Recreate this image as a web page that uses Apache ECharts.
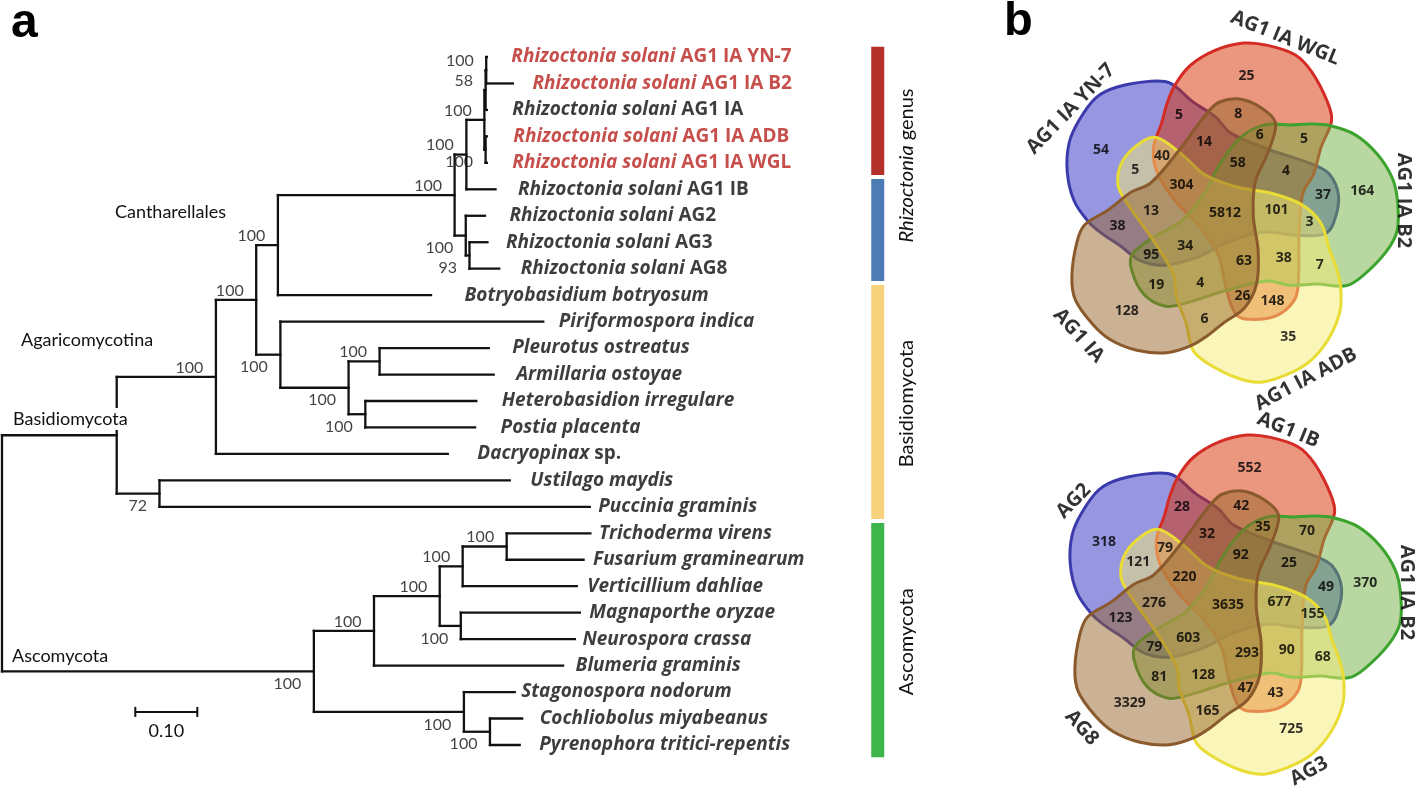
<!DOCTYPE html>
<html>
<head>
<meta charset="utf-8">
<script src="https://cdn.jsdelivr.net/npm/echarts@6/dist/echarts.min.js"></script>
<style>
  html, body { margin: 0; padding: 0; background: #fff; }
  #chart { width: 1418px; height: 788px; }
</style>
</head>
<body>
<div id="chart"></div>
<script>
// ---- tree data (branch lengths, 0.10 = scale bar) ----
const treeNewick = '((((((((((YN7:0.001,B2:0.043)100:0.001,IA:0.002)58:0.002,(ADB:0.002,WGL:0.002)100:0.002)100:0.029,IB:0.047)100:0.019,(AG2:0.031,(AG3:0.029,AG8:0.048)93:0.006)100:0.018)100:0.285,Bb:0.247)100:0.035,(Pi:0.424,((Po:0.176,Ao:0.184)100:0.050,(Hi:0.179,Pp:0.177)100:0.027)100:0.110)100:0.039)100:0.065,Dc:0.374)100:0.160,(Um:0.565,Pg:0.694)72:0.069):0.185,(((((Tv:0.135,Fg:0.124)100:0.071,Vd:0.184)100:0.037,(Mo:0.192,Nc:0.184)100:0.034)100:0.106,Bg:0.305)100:0.097,(Sn:0.082,(Cm:0.052,Pt:0.048)100:0.042)100:0.242)100:0.503);'

const leafKeys = ['YN7','B2','IA','ADB','WGL','IB','AG2','AG3','AG8','Bb','Pi','Po','Ao','Hi','Pp','Dc','Um','Pg','Tv','Fg','Vd','Mo','Nc','Bg','Sn','Cm','Pt']
const leafItalic = ['Rhizoctonia solani','Rhizoctonia solani','Rhizoctonia solani','Rhizoctonia solani','Rhizoctonia solani',
  'Rhizoctonia solani','Rhizoctonia solani','Rhizoctonia solani','Rhizoctonia solani','Botryobasidium botryosum',
  'Piriformospora indica','Pleurotus ostreatus','Armillaria ostoyae','Heterobasidion irregulare','Postia placenta',
  'Dacryopinax','Ustilago maydis','Puccinia graminis','Trichoderma virens','Fusarium graminearum','Verticillium dahliae',
  'Magnaporthe oryzae','Neurospora crassa','Blumeria graminis','Stagonospora nodorum','Cochliobolus miyabeanus',
  'Pyrenophora tritici-repentis']
const leafPlain = ['AG1 IA YN-7','AG1 IA B2','AG1 IA','AG1 IA ADB','AG1 IA WGL','AG1 IB','AG2','AG3','AG8',
  '','','','','','','sp.','','','','','','','','','','','']
const leafSequenced = ['YN7','B2','ADB','WGL']

const cladeNames = ['Cantharellales','Agaricomycotina','Basidiomycota','Ascomycota']
const scaleBarLength = 0.10

// side bars: leaf row ranges
const barRanges = [[0, 4], [5, 8], [9, 17], [18, 26]]
const groupRanges = [[0, 8], [9, 17], [18, 26]]
const groupNames = ['{i|Rhizoctonia} genus', 'Basidiomycota', 'Ascomycota']

// ---- venn data, sets clockwise from upper left ----
const topSets = ['AG1 IA YN-7', 'AG1 IA WGL', 'AG1 IA B2', 'AG1 IA ADB', 'AG1 IA']
const topSingles = [54, 25, 164, 35, 128]          // k only
const topPairsAdj = [5, 5, 7, 6, 38]               // k, k+1
const topPairsSkip = [37, 148, 19, 5, 8]           // k, k+2
const topTriplesAdj = [4, 38, 4, 13, 14]           // k, k+1, k+2
const topTriplesSplit = [40, 6, 3, 26, 95]         // k, k+1, k+3
const topQuads = [63, 34, 304, 58, 101]            // all but k
const topAll = 5812

const bottomSets = ['AG2', 'AG1 IB', 'AG1 IA B2', 'AG3', 'AG8']
const bottomSingles = [318, 552, 370, 725, 3329]
const bottomPairsAdj = [28, 70, 68, 165, 123]
const bottomPairsSkip = [49, 43, 81, 121, 42]
const bottomTriplesAdj = [25, 90, 128, 276, 32]
const bottomTriplesSplit = [79, 35, 155, 47, 79]
const bottomQuads = [293, 603, 220, 92, 677]
const bottomAll = 3635

// ---- layout / style ----
const FONT = 'Lato'
const BOLD = 'Open Sans'
const treeColor = '#111'
const redText = '#b8231e'
const leafGap = [24, 19, 25, 26, 25, 22, 24, 18, 21, 33, 15, 23, 22, 25, 25, 29, 20, 8, 8, 9, 10, 9, 7, 12, 6, 17, 19]
const barColors = ['#b3302b', '#4d7bb3', '#f7d27c', '#3db54a']
// colour of each set where it stands alone
const vennSingleRGB = [[150, 150, 225], [235, 150, 125], [185, 215, 160], [250, 245, 185], [203, 178, 148]]
const vennAlpha = 0.5
const vennStroke = ['#3b3bab', '#d42b25', '#3ca32e', '#e8dc35', '#8a5a2c']
// one set outline (px, y up, relative to diagram centre); the others are rotations of it
const vennShape = [[-77,137],[-57,135],[-34,116],[-10,100],[6,83],[46,66],[90,51],[108,41],[118,18],[113,-10],
  [103,-22],[73,-23],[40,-20],[6,-29],[-27,-45],[-60,-54],[-87,-50],[-109,-34],[-127,-22],[-142,-9],[-157,13],
  [-164,43],[-162,73],[-152,96],[-134,120],[-112,131]]
const vennScale = 0.962
const orbitOffsets = [[-124,63], [-46,98], [98,18], [61,42], [-63,57], [19,-48]]
const vennCenters = [[-2, 0], [1, -392]]
const setLabelAngle = [146, 71, 4, -64, -140]
const setLabelRadius = [186, 185, 179, 185, 191]
const setLabelRotate = [46, -22, -90, 28, -48]

// ---- build tree ----
function parseNewick(s) {
  let i = 0
  function node() {
    const n = { children: [] }
    if (s[i] === '(') {
      i++
      n.children.push(node())
      while (s[i] === ',') { i++; n.children.push(node()) }
      i++
    }
    let name = ''
    while (i < s.length && !':,();'.includes(s[i])) name += s[i++]
    n.name = name
    n.len = 0
    if (s[i] === ':') {
      i++
      let num = ''
      while (i < s.length && !',();'.includes(s[i])) num += s[i++]
      n.len = parseFloat(num)
    }
    return n
  }
  return node()
}

const treeNodes = []
let leafRow = 0
function layout(n, parentX, first) {
  n.px = parentX
  n.x = parentX + n.len
  n.first = first
  if (!n.children.length) {
    n.y = leafRow++
    n.y1 = n.y2 = n.y
  } else {
    n.children.forEach((c, i) => layout(c, n.x, i === 0))
    n.y1 = n.children[0].y
    n.y2 = n.children[n.children.length - 1].y
    n.y = (n.y1 + n.y2) / 2
  }
  treeNodes.push(n)
}
layout(parseNewick(treeNewick), 0, true)

const leaves = treeNodes.filter(n => !n.children.length).sort((a, b) => a.y - b.y)
const supportNodes = treeNodes.filter(n => n.children.length && n.name !== '')

// ---- build venn ----
function rot(p, deg) {
  const a = deg * Math.PI / 180
  return [p[0] * Math.cos(a) - p[1] * Math.sin(a), p[0] * Math.sin(a) + p[1] * Math.cos(a)]
}
// fill colour that gives the single-set colour at vennAlpha over white
const vennFill = vennSingleRGB.map(t => 'rgba(' + t.map(v =>
  Math.max(0, Math.round((v - 255 * (1 - vennAlpha)) / vennAlpha))).join(',') + ',' + vennAlpha + ')')

const topOrbits = [topSingles, topPairsAdj, topPairsSkip, topTriplesAdj, topTriplesSplit, topQuads]
const bottomOrbits = [bottomSingles, bottomPairsAdj, bottomPairsSkip, bottomTriplesAdj, bottomTriplesSplit, bottomQuads]
const vennNumbers = []
;[[topOrbits, topAll], [bottomOrbits, bottomAll]].forEach(([orbits, all], d) => {
  const c = vennCenters[d]
  orbits.forEach((counts, o) => {
    counts.forEach((v, k) => {
      const q = rot(orbitOffsets[o], -72 * k)
      vennNumbers.push([c[0] + q[0], c[1] + q[1], v])
    })
  })
  vennNumbers.push([c[0], c[1], all])
})
const vennSetLabels = []
;[topSets, bottomSets].forEach((names, d) => {
  const c = vennCenters[d]
  names.forEach((name, k) => {
    const a = setLabelAngle[k] * Math.PI / 180
    vennSetLabels.push({
      value: [c[0] + setLabelRadius[k] * Math.cos(a), c[1] + setLabelRadius[k] * Math.sin(a)],
      name: name,
      label: { rotate: setLabelRotate[k] }
    })
  })
})

const chart = echarts.init(document.getElementById('chart'))

const leafRich = {
  i: { fontFamily: BOLD, fontStyle: 'italic', fontWeight: 'bold', fontSize: 19, color: '#0d0d0d' },
  n: { fontFamily: BOLD, fontWeight: 'bold', fontSize: 19, color: '#0d0d0d' },
  ri: { fontFamily: BOLD, fontStyle: 'italic', fontWeight: 'bold', fontSize: 19, color: redText },
  rn: { fontFamily: BOLD, fontWeight: 'bold', fontSize: 19, color: redText }
}
const cladeText = (txt, left, top) => ({
  type: 'text', left, top, z: 100,
  style: { text: txt, font: '18px ' + FONT, fill: '#111', backgroundColor: '#fff', padding: [2, 0] }
})

const option = {
  animation: false,
  grid: [
    { left: 2, top: 30.54, width: 930, height: 740.9 },
    { left: 1000, top: 0, width: 418, height: 788 }
  ],
  xAxis: [
    { gridIndex: 0, type: 'value', min: 0, max: 1.5, show: false },
    { gridIndex: 1, type: 'value', min: -227, max: 191, show: false }
  ],
  yAxis: [
    { gridIndex: 0, type: 'value', min: -1, max: 27, inverse: true, show: false },
    { gridIndex: 1, type: 'value', min: -575, max: 213, show: false }
  ],
  graphic: [
    { type: 'text', left: 11, top: 0, style: { text: 'a', font: 'bold 48px "Liberation Sans"', fill: '#000' } },
    { type: 'text', left: 1004, top: -1, style: { text: 'b', font: 'bold 47px "Liberation Sans"', fill: '#000' } },
    cladeText(cladeNames[0], 115, 201),
    cladeText(cladeNames[1], 21, 329),
    cladeText(cladeNames[2], 13, 408),
    cladeText(cladeNames[3], 12, 645)
  ],
  series: [
    // branches
    {
      type: 'custom', xAxisIndex: 0, yAxisIndex: 0, silent: true,
      data: treeNodes.map(n => [n.px, n.x, n.y, n.y1, n.y2]),
      renderItem: (params, api) => {
        const st = { stroke: treeColor, lineWidth: 2.3, lineCap: 'square' }
        const p0 = api.coord([api.value(0), api.value(2)])
        const p1 = api.coord([api.value(1), api.value(2)])
        const children = [{ type: 'line', shape: { x1: p0[0], y1: p0[1], x2: p1[0], y2: p1[1] }, style: st }]
        if (api.value(3) !== api.value(4)) {
          const a = api.coord([api.value(1), api.value(3)])
          const b = api.coord([api.value(1), api.value(4)])
          children.push({ type: 'line', shape: { x1: a[0], y1: a[1], x2: b[0], y2: b[1] }, style: st })
        }
        return { type: 'group', children }
      }
    },
    // leaf names
    {
      type: 'scatter', xAxisIndex: 0, yAxisIndex: 0, silent: true,
      symbolSize: 1, itemStyle: { color: 'rgba(0,0,0,0)' },
      data: leaves.map((n, i) => ({ value: [n.x, n.y], label: { distance: leafGap[i] } })),
      label: {
        show: true, position: 'right', rich: leafRich,
        formatter: p => {
          const k = leafKeys[p.dataIndex]
          const red = leafSequenced.includes(k)
          const it = leafItalic[p.dataIndex], pl = leafPlain[p.dataIndex]
          return '{' + (red ? 'ri' : 'i') + '|' + it + '}' + (pl ? '{' + (red ? 'rn' : 'n') + '| ' + pl + '}' : '')
        }
      }
    },
    // bootstrap values
    {
      type: 'scatter', xAxisIndex: 0, yAxisIndex: 0, silent: true,
      symbolSize: 1, itemStyle: { color: 'rgba(0,0,0,0)' },
      data: supportNodes.map(n => ({ value: [n.x, n.y], label: { position: n.first ? [-12, -9] : [-12, 13] } })),
      label: {
        show: true, align: 'right', verticalAlign: 'middle',
        fontFamily: FONT, fontSize: 16, color: '#111',
        formatter: p => supportNodes[p.dataIndex].name
      }
    },
    // scale bar
    {
      type: 'custom', xAxisIndex: 0, yAxisIndex: 0, silent: true,
      data: [[0.215, 24.75, scaleBarLength]],
      renderItem: (params, api) => {
        const a = api.coord([api.value(0), api.value(1)])
        const b = api.coord([api.value(0) + api.value(2), api.value(1)])
        const st = { stroke: treeColor, lineWidth: 2 }
        return {
          type: 'group', children: [
            { type: 'line', shape: { x1: a[0], y1: a[1], x2: b[0], y2: b[1] }, style: st },
            { type: 'line', shape: { x1: a[0], y1: a[1] - 5, x2: a[0], y2: a[1] + 5 }, style: st },
            { type: 'line', shape: { x1: b[0], y1: b[1] - 5, x2: b[0], y2: b[1] + 5 }, style: st },
            { type: 'text', x: (a[0] + b[0]) / 2, y: a[1] + 19, style: { text: api.value(2).toFixed(2), font: '18px ' + FONT, fill: '#111', align: 'center', verticalAlign: 'middle' } }
          ]
        }
      }
    },
    // coloured side bars
    {
      type: 'custom', xAxisIndex: 0, yAxisIndex: 0, silent: true,
      data: barRanges.map((r, i) => [r[0], r[1], i]),
      renderItem: (params, api) => {
        const t = api.coord([1.402, api.value(0) - 0.5])
        const b = api.coord([1.402, api.value(1) + 0.5])
        return { type: 'rect', shape: { x: t[0], y: t[1] + 3, width: 13, height: b[1] - t[1] - 4 }, style: { fill: barColors[api.value(2)] } }
      }
    },
    // group names beside the bars
    {
      type: 'custom', xAxisIndex: 0, yAxisIndex: 0, silent: true,
      data: groupRanges.map((r, i) => [r[0], r[1], i]),
      renderItem: (params, api) => {
        const p = api.coord([1.459, (api.value(0) + api.value(1)) / 2 + 0.1])
        return {
          type: 'text', x: p[0], y: p[1], rotation: Math.PI / 2,
          style: {
            text: groupNames[api.value(2)], font: '20px ' + FONT, fill: '#111', align: 'center', verticalAlign: 'middle',
            rich: { i: { fontStyle: 'italic', fontFamily: FONT, fontSize: 20, fill: '#111' } }
          }
        }
      }
    },
    // venn shapes
    {
      type: 'custom', xAxisIndex: 1, yAxisIndex: 1, silent: true,
      data: [0, 1].flatMap(d => [0, 1, 2, 3, 4].map(k => [d, k])),
      renderItem: (params, api) => {
        const d = api.value(0), k = api.value(1)
        const c = vennCenters[d]
        const pts = vennShape.map(p => {
          const q = rot(p, -72 * k)
          return api.coord([c[0] + q[0] * vennScale, c[1] + q[1] * vennScale])
        })
        return { type: 'polygon', shape: { points: pts, smooth: 0.35 }, style: { fill: vennFill[k], stroke: vennStroke[k], lineWidth: 3 } }
      }
    },
    // venn counts
    {
      type: 'scatter', xAxisIndex: 1, yAxisIndex: 1, silent: true,
      symbolSize: 1, itemStyle: { color: 'rgba(0,0,0,0)' },
      data: vennNumbers,
      label: { show: true, position: 'inside', formatter: p => String(p.value[2]), fontFamily: BOLD, fontWeight: 'bold', fontSize: 14, color: '#000' }
    },
    // venn set names
    {
      type: 'scatter', xAxisIndex: 1, yAxisIndex: 1, silent: true,
      symbolSize: 1, itemStyle: { color: 'rgba(0,0,0,0)' },
      data: vennSetLabels,
      label: { show: true, position: 'inside', formatter: p => p.name, fontFamily: BOLD, fontWeight: 'bold', fontSize: 20, color: '#000' }
    }
  ]
}

chart.setOption(option)
</script>
</body>
</html>
